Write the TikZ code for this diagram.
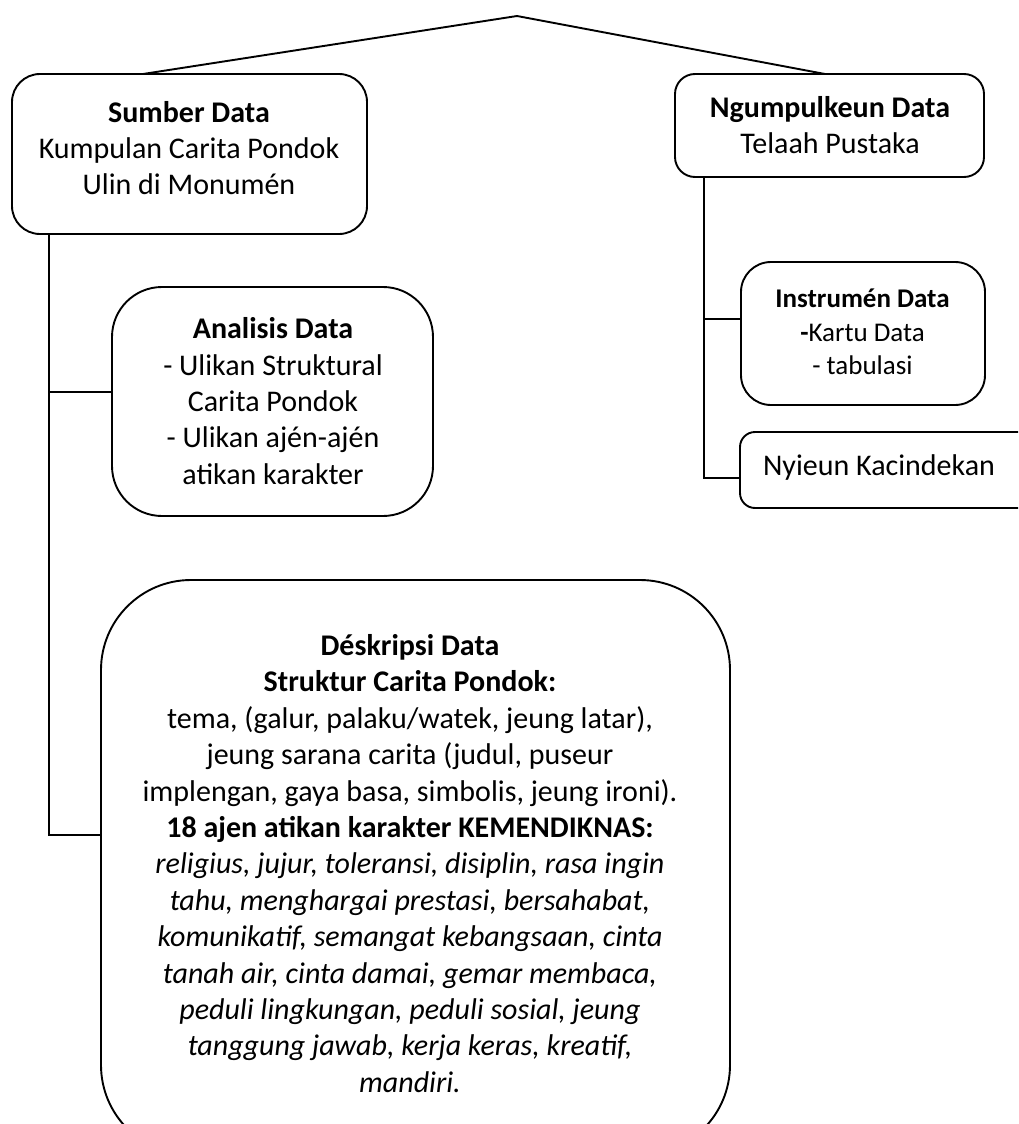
\documentclass[tikz,border=0pt]{standalone}
\usepackage{fontspec}
\setmainfont{Carlito}
\usetikzlibrary{calc}
\tikzset{
  box/.style={draw, line width=1.9pt, inner sep=0pt, outer sep=0pt, anchor=north west},
  txt/.style={align=center, inner sep=0pt, font=\fontsize{30}{36.4}\selectfont},
  smalltxt/.style={align=center, inner sep=0pt, font=\fontsize{27}{33.5}\selectfont},
  conn/.style={line width=1.9pt},
}
\begin{document}
\begin{tikzpicture}[x=1pt,y=-1pt]
\useasboundingbox (0,0) rectangle (1018,1124);
\clip (0,0) rectangle (1018,1124);
% boxes
\node[box, minimum width=355pt, minimum height=160pt, rounded corners=28pt] (sumber) at (12,74) {};
\node[box, minimum width=309pt, minimum height=103pt, rounded corners=20pt] (ngum) at (675,74) {};
\node[box, minimum width=321pt, minimum height=229pt, rounded corners=50pt] (anal) at (112,287) {};
\node[box, minimum width=244pt, minimum height=143pt, rounded corners=30pt] (instr) at (741,262) {};
\node[box, minimum width=300pt, minimum height=76pt, rounded corners=15pt] (nyieun) at (740,432) {};
\node[box, minimum width=629pt, minimum height=575pt, rounded corners=90pt] (desk) at (101,580) {};
% texts
\node[txt] (sumbertxt) at (189,148) {\textbf{Sumber Data}\\Kumpulan Carita Pondok\\Ulin di Monumén};
\node[txt] (ngumtxt) at (830,125) {\textbf{Ngumpulkeun Data}\\Telaah Pustaka};
\node[txt] (analtxt) at (273,401) {\textbf{Analisis Data}\\- Ulikan Struktural\\Carita Pondok\\- Ulikan ajén-ajén\\atikan karakter};
\node[smalltxt] (instrtxt) at (862.5,332) {\textbf{Instrumén Data}\\\textbf{-}Kartu Data\\- tabulasi};
\node[txt] (nyieuntxt) at (879,467) {Nyieun Kacindekan};
\node[txt] (desktxt) at (410,863.5) {\textbf{Déskripsi Data}\\\textbf{Struktur Carita Pondok:}\\tema, (galur, palaku/watek, jeung latar),\\jeung sarana carita (judul, puseur\\implengan, gaya basa, simbolis, jeung ironi).\\\textbf{18 ajen atikan karakter KEMENDIKNAS:}\\\textit{religius, jujur, toleransi, disiplin, rasa ingin}\\\textit{tahu, menghargai prestasi, bersahabat,}\\\textit{komunikatif, semangat kebangsaan, cinta}\\\textit{tanah air, cinta damai, gemar membaca,}\\\textit{peduli lingkungan, peduli sosial, jeung}\\\textit{tanggung jawab, kerja keras, kreatif,}\\\textit{mandiri.}};
% connectors
\coordinate (apex) at (517,16);
\draw[conn] ($(sumber.north west)+(131,0)$) -- (apex) -- ($(ngum.north west)+(150,0)$);
\coordinate (ls) at ($(sumber.south west)+(37,0)$);
\coordinate (la) at (49,392);
\coordinate (ld) at (49,835);
\draw[conn] (ls) -- (ld) -- (ld -| desk.west);
\draw[conn] (la) -- (la -| anal.west);
\coordinate (rs) at ($(ngum.south west)+(29,0)$);
\coordinate (ri) at (704,319);
\coordinate (rn) at (704,478);
\draw[conn] (rs) -- (rn) -- (rn -| nyieun.west);
\draw[conn] (ri) -- (ri -| instr.west);
\end{tikzpicture}
\end{document}
